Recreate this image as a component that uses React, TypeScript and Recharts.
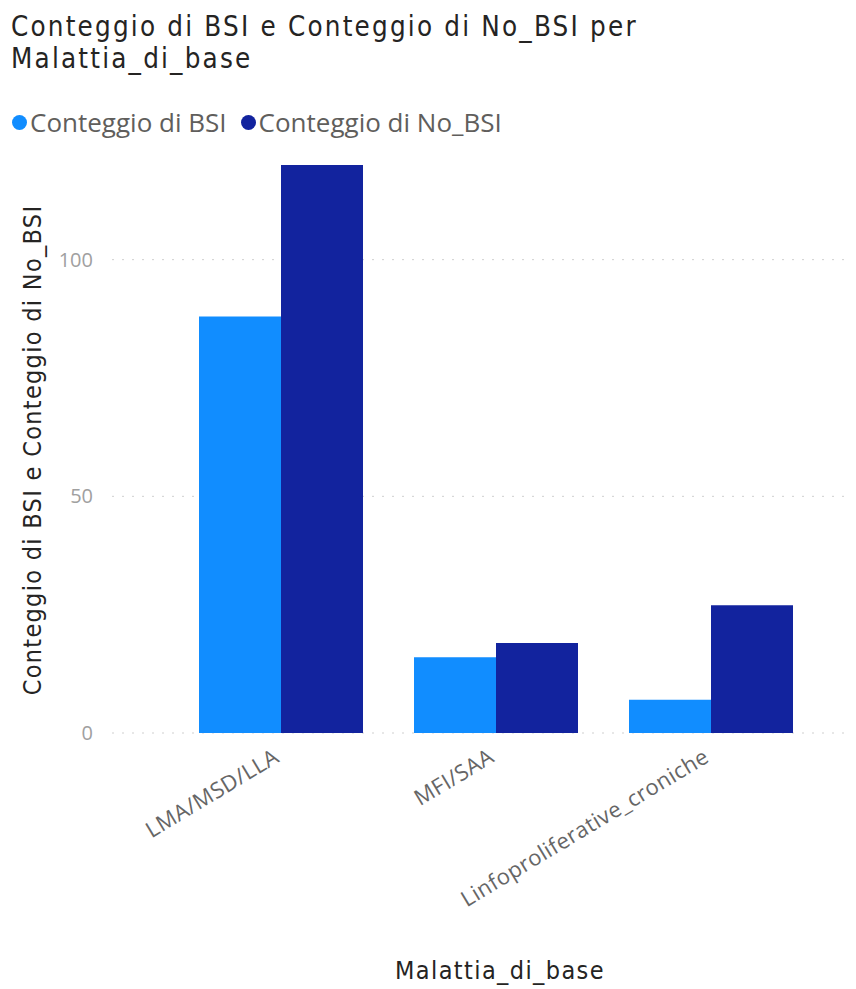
import React from 'react'
import { BarChart, Bar, XAxis, YAxis, CartesianGrid } from 'recharts'

const categories = ['LMA/MSD/LLA', 'MFI/SAA', 'Linfoproliferative_croniche']
const bsiCounts = [88, 16, 7]
const noBsiCounts = [120, 19, 27]
const yTicks = [0, 50, 100]

const BSI_COLOR = '#118DFF'
const NO_BSI_COLOR = '#12239E'
const TITLE_FONT = '"DejaVu Sans Condensed", "DejaVu Sans", sans-serif'
const LABEL_FONT = '"Open Sans", "Noto Sans", sans-serif'

const data = categories.map((name, i) => ({
    name,
    bsi: bsiCounts[i],
    noBsi: noBsiCounts[i],
}))

const XTick = ({ x, y, payload }: any) => (
    <text
        x={x}
        y={y + 20}
        transform={`rotate(-31, ${x}, ${y + 20})`}
        textAnchor="end"
        fill="#666"
        fontSize={22}
        letterSpacing={0.4}
        fontFamily={LABEL_FONT}
    >
        {payload.value}
    </text>
)

const LegendItem = ({ color, label }: { color: string; label: string }) => (
    <span style={{ display: 'inline-flex', alignItems: 'center', marginRight: 14 }}>
        <span style={{ width: 15, height: 15, borderRadius: 8, background: color, marginRight: 3 }} />
        <span>{label}</span>
    </span>
)

export default function App() {
    return (
        <div style={{ position: 'absolute', left: 0, top: 0, width: 856, height: 989, background: '#fff' }}>
            <div
                style={{
                    position: 'absolute', left: 11, top: 10, fontFamily: TITLE_FONT, fontSize: 27.5,
                    lineHeight: '32px', letterSpacing: 2.2, color: '#252423',
                }}
            >
                Conteggio di BSI e Conteggio di No_BSI per
                <br />
                Malattia_di_base
            </div>
            <div
                style={{
                    position: 'absolute', left: 12, top: 104, fontFamily: LABEL_FONT, fontSize: 26,
                    color: '#605E5C', display: 'flex', whiteSpace: 'nowrap',
                }}
            >
                <LegendItem color={BSI_COLOR} label="Conteggio di BSI" />
                <LegendItem color={NO_BSI_COLOR} label="Conteggio di No_BSI" />
            </div>
            <BarChart
                width={856}
                height={989}
                data={data}
                margin={{ top: 165, right: 6, bottom: 0, left: 52 }}
                barCategoryGap={26}
                barGap={0}
            >
                <CartesianGrid
                    vertical={false}
                    horizontalValues={yTicks}
                    stroke="#cfcfcf"
                    strokeDasharray="2 8"
                />
                <XAxis
                    dataKey="name"
                    height={256}
                    axisLine={false}
                    tickLine={false}
                    interval={0}
                    padding={{ left: 61, right: 32 }}
                    tick={<XTick />}
                    label={({ viewBox }: any) => (
                        <text
                            x={500}
                            y={viewBox.y + 246}
                            textAnchor="middle"
                            fill="#252423"
                            fontSize={25}
                            letterSpacing={1.4}
                            fontFamily={TITLE_FONT}
                        >
                            Malattia_di_base
                        </text>
                    )}
                />
                <YAxis
                    width={60}
                    domain={[0, 120]}
                    ticks={yTicks}
                    axisLine={false}
                    tickLine={false}
                    tickSize={0}
                    tickMargin={19}
                    tick={{ fill: '#a0a0a0', fontSize: 20, fontFamily: LABEL_FONT }}
                    label={({ viewBox }: any) => {
                        const cx = viewBox.x - 20
                        const cy = 450
                        return (
                            <text
                                x={cx}
                                y={cy}
                                transform={`rotate(-90, ${cx}, ${cy})`}
                                textAnchor="middle"
                                dominantBaseline="central"
                                fill="#252423"
                                fontSize={25}
                                letterSpacing={1.3}
                                fontFamily={TITLE_FONT}
                            >
                                Conteggio di BSI e Conteggio di No_BSI
                            </text>
                        )
                    }}
                />
                <Bar dataKey="bsi" fill={BSI_COLOR} isAnimationActive={false} />
                <Bar dataKey="noBsi" fill={NO_BSI_COLOR} isAnimationActive={false} />
            </BarChart>
        </div>
    )
}
